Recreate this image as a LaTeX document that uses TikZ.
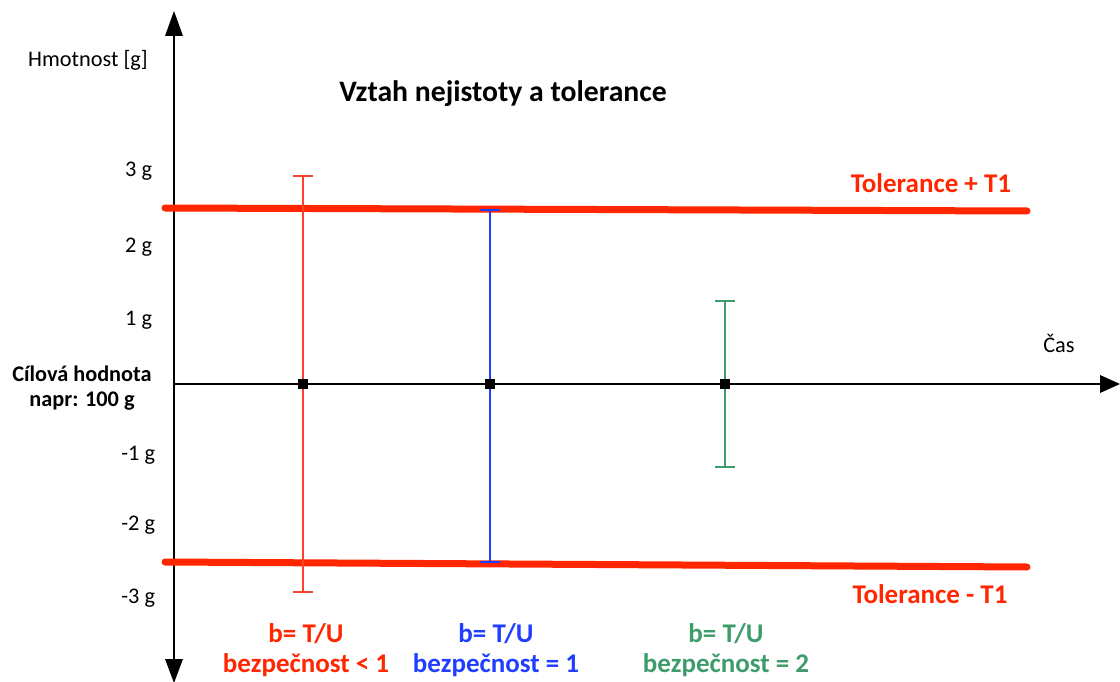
\documentclass[tikz,border=0pt]{standalone}
\usepackage{fontspec}
\setmainfont{Carlito}
\definecolor{tolred}{RGB}{255,38,0}
\definecolor{barred}{RGB}{255,64,44}
\definecolor{barblue}{RGB}{32,62,255}
\definecolor{bargreen}{RGB}{62,156,108}
\begin{document}
\begin{tikzpicture}[y=1pt, x=1pt, yscale=-1, inner sep=0pt, outer sep=0pt,
  axisline/.style={draw=black,line width=1.8pt},
  tolline/.style={draw=tolred,line cap=round,line width=7.0pt},
  errbar/.style={line width=2.0pt},
  ticktext/.style={anchor=base east,font=\fontsize{22.3}{26}\selectfont},
  boldtext/.style={anchor=base,font=\fontsize{27}{32}\selectfont\bfseries}]
  \useasboundingbox (0,0) rectangle (1120,682);
  % axes
  \path[axisline] (174.0000,30.0000) -- (174.0000,664.0000);
  \path[axisline] (174.0000,384.0000) -- (1104.0000,384.0000);
  \path[fill=black] (174.0000,11.0000) -- (165.0000,36.0000) --
    (183.0000,36.0000) -- cycle;
  \path[fill=black] (174.0000,683.0000) -- (165.0000,659.0000) --
    (183.0000,659.0000) -- cycle;
  \path[fill=black] (1120.0000,384.0000) -- (1100.0000,375.0000) --
    (1100.0000,393.0000) -- cycle;
  % tolerance band
  \path[tolline] (165.0000,208.0000) -- (1027.0000,211.0000);
  \path[tolline] (165.0000,562.0000) -- (1027.0000,567.0000);
  % uncertainty bars
  \path[errbar,draw=barred] (303.0000,176.0000) -- (303.0000,592.0000)
    (293.0000,176.0000) -- (313.0000,176.0000)
    (293.0000,592.0000) -- (313.0000,592.0000);
  \path[errbar,draw=barblue] (490.0000,210.0000) -- (490.0000,562.0000)
    (480.0000,210.0000) -- (500.0000,210.0000)
    (480.0000,562.0000) -- (500.0000,562.0000);
  \path[errbar,draw=bargreen] (725.0000,301.0000) -- (725.0000,467.0000)
    (715.0000,301.0000) -- (735.0000,301.0000)
    (715.0000,467.0000) -- (735.0000,467.0000);
  \path[fill=black] (298.0000,379.0000) rectangle (308.0000,389.0000);
  \path[fill=black] (485.0000,379.0000) rectangle (495.0000,389.0000);
  \path[fill=black] (720.0000,379.0000) rectangle (730.0000,389.0000);
  % axis texts
  \path (88.0000,67.0000) node[anchor=base,font=\fontsize{22.3}{26}\selectfont]
    (text1001) {Hmotnost [g]};
  \path (1059.0000,352.0000) node[anchor=base,font=\fontsize{22.3}{26}\selectfont]
    (text1003) {Čas};
  \path (152.0000,177.0000) node[ticktext] (text1011) {3 g};
  \path (152.0000,252.0000) node[ticktext] (text1012) {2 g};
  \path (152.0000,325.0000) node[ticktext] (text1013) {1 g};
  \path (155.0000,460.0000) node[ticktext] (text1014) {-1 g};
  \path (155.0000,530.0000) node[ticktext] (text1015) {-2 g};
  \path (155.0000,603.0000) node[ticktext] (text1016) {-3 g};
  \path (82.0000,381.0000) node[anchor=base,font=\fontsize{22.3}{26}\selectfont\bfseries]
    (text1021) {Cílová hodnota};
  \path (82.0000,406.0000) node[anchor=base,font=\fontsize{22.3}{26}\selectfont\bfseries]
    (text1022) {napr: 100 g};
  \path (503.0000,102.0000) node[anchor=base,font=\fontsize{29.7}{34}\selectfont\bfseries]
    (text1031) {Vztah nejistoty a tolerance};
  \path (931.0000,193.0000) node[boldtext,text=tolred] (text1041) {Tolerance + T1};
  \path (930.0000,603.0000) node[boldtext,text=tolred] (text1042) {Tolerance - T1};
  % safety factor texts
  \path (306.0000,642.0000) node[boldtext,text=tolred] (text1051) {b= T/U};
  \path (306.0000,672.0000) node[boldtext,text=tolred] (text1052) {bezpečnost < 1};
  \path (496.0000,642.0000) node[boldtext,text=barblue] (text1061) {b= T/U};
  \path (496.0000,672.0000) node[boldtext,text=barblue] (text1062) {bezpečnost = 1};
  \path (726.0000,642.0000) node[boldtext,text=bargreen] (text1071) {b= T/U};
  \path (726.0000,672.0000) node[boldtext,text=bargreen] (text1072) {bezpečnost = 2};
\end{tikzpicture}
\end{document}
